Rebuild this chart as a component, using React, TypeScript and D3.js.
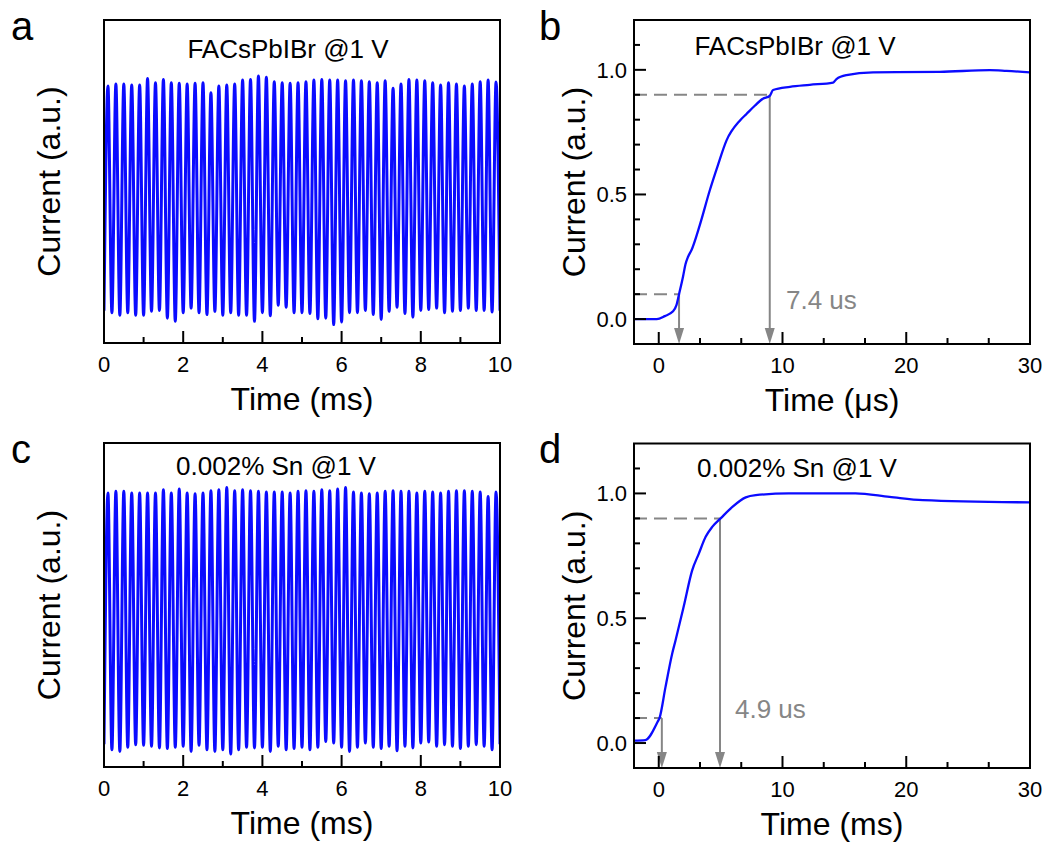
import React from 'react';
import * as d3 from 'd3';

const FONT = '"Liberation Sans", Arial, Helvetica, sans-serif';
const BLUE = '#0b0bff';
const GRAY = '#868686';

// ---------- Panels a / c : periodic photocurrent (peak and valley values, a.u.) ----------
const PERIOD_MS = 0.2;
const A_PEAKS = [0.796, 0.802, 0.802, 0.799, 0.799, 0.819, 0.806, 0.816, 0.806, 0.804, 0.802, 0.804, 0.806, 0.775, 0.796, 0.799, 0.802, 0.814, 0.816, 0.827, 0.823, 0.809, 0.806, 0.804, 0.806, 0.809, 0.814, 0.816, 0.814, 0.814, 0.812, 0.814, 0.812, 0.809, 0.806, 0.812, 0.789, 0.802, 0.816, 0.814, 0.812, 0.806, 0.799, 0.806, 0.802, 0.796, 0.802, 0.809, 0.814, 0.808];
const A_TROUGHS = [0.094, 0.086, 0.094, 0.086, 0.086, 0.098, 0.101, 0.077, 0.067, 0.094, 0.108, 0.094, 0.088, 0.098, 0.086, 0.094, 0.086, 0.086, 0.067, 0.094, 0.084, 0.117, 0.111, 0.094, 0.094, 0.091, 0.075, 0.077, 0.057, 0.065, 0.094, 0.094, 0.101, 0.088, 0.073, 0.098, 0.111, 0.091, 0.080, 0.101, 0.104, 0.108, 0.094, 0.098, 0.101, 0.108, 0.101, 0.101, 0.096];
const A_EDGES = [0.1, 0.1];

const C_PEAKS = [0.846, 0.851, 0.851, 0.846, 0.846, 0.846, 0.846, 0.856, 0.846, 0.858, 0.846, 0.843, 0.846, 0.853, 0.856, 0.863, 0.853, 0.856, 0.853, 0.851, 0.849, 0.849, 0.849, 0.846, 0.851, 0.853, 0.851, 0.856, 0.853, 0.858, 0.863, 0.849, 0.846, 0.843, 0.846, 0.851, 0.853, 0.851, 0.851, 0.846, 0.851, 0.849, 0.846, 0.851, 0.853, 0.853, 0.851, 0.849, 0.835, 0.849];
const C_TROUGHS = [0.053, 0.048, 0.061, 0.069, 0.067, 0.064, 0.059, 0.057, 0.061, 0.064, 0.048, 0.067, 0.053, 0.048, 0.053, 0.040, 0.053, 0.061, 0.059, 0.061, 0.048, 0.064, 0.053, 0.057, 0.061, 0.053, 0.061, 0.079, 0.074, 0.061, 0.048, 0.061, 0.074, 0.061, 0.057, 0.064, 0.050, 0.064, 0.059, 0.074, 0.077, 0.064, 0.069, 0.064, 0.057, 0.064, 0.069, 0.064, 0.053];
const C_EDGES = [0.07, 0.07];

const OSC_X_MAJOR = [0, 2, 4, 6, 8, 10];
const OSC_X_MINOR = [1, 3, 5, 7, 9];

// ---------- Panels b / d : rise curves ----------
const B_TIME = [-2.0, -0.16, 0.49, 1.13, 1.43, 1.64, 1.96, 2.16, 2.37, 2.64, 3.31, 4.12, 4.77, 5.47, 6.55, 7.09, 7.76, 8.41, 8.97, 9.24, 10.6, 12.2, 14.09, 14.36, 15.17, 17.32, 22.7, 26.76, 28.1, 30.0];
const B_CURRENT = [0.0, 0.0, 0.012, 0.03, 0.056, 0.1, 0.17, 0.22, 0.25, 0.276, 0.376, 0.516, 0.616, 0.716, 0.796, 0.823, 0.856, 0.884, 0.896, 0.919, 0.932, 0.94, 0.949, 0.963, 0.979, 0.99, 0.992, 0.999, 0.996, 0.99];
const B_T10 = 1.64;
const B_T90 = 8.97;

const D_TIME = [-2.0, -1.08, -0.08, 0.06, 0.54, 1.08, 1.35, 2.03, 2.7, 3.24, 3.79, 4.32, 5.0, 5.95, 7.03, 7.84, 10.5, 15.9, 18.65, 21.35, 30.0];
const D_CURRENT = [0.01, 0.012, 0.086, 0.1, 0.223, 0.357, 0.41, 0.55, 0.692, 0.759, 0.826, 0.866, 0.9, 0.946, 0.984, 0.993, 1.0, 1.0, 0.986, 0.973, 0.964];
const D_T10 = 0.25;
const D_T90 = 4.95;

const RISE_X_MAJOR = [0, 10, 20, 30];
const RISE_X_MINOR = [10 / 3, 20 / 3, 40 / 3, 50 / 3, 70 / 3, 80 / 3];
const RISE_Y_MAJOR = [0, 0.5, 1.0];
const RISE_Y_MINOR = [0.1, 0.2, 0.3, 0.4, 0.6, 0.7, 0.8, 0.9, 1.1];
const LEVEL_10 = 0.1;
const LEVEL_90 = 0.9;

type Box = { x0: number; x1: number; y0: number; y1: number };

function buildOsc(peaks: number[], troughs: number[], edges: number[]): [number, number][] {
  const pts: [number, number][] = [[0, edges[0]]];
  peaks.forEach((p, k) => {
    pts.push([PERIOD_MS * (k + 0.5), p]);
    if (k < troughs.length) pts.push([PERIOD_MS * (k + 1), troughs[k]]);
  });
  pts.push([10, edges[1]]);
  return pts;
}

function PanelLetter({ x, y, t }: { x: number; y: number; t: string }) {
  return (
    <text x={x} y={y} fontSize={40} fontFamily={FONT} fill="#000">
      {t}
    </text>
  );
}

function OscPanel({ box, peaks, troughs, edges, title, titleX, titleY, yLabelX }: any) {
  const b: Box = box;
  const x = d3.scaleLinear().domain([0, 10]).range([b.x0, b.x1]);
  const y = d3.scaleLinear().domain([0, 1]).range([b.y1, b.y0]);
  const data = buildOsc(peaks, troughs, edges);
  const line = d3
    .line<[number, number]>()
    .x((d) => x(d[0]))
    .y((d) => y(d[1]))
    .curve(d3.curveMonotoneX);
  const clipId = `clip-${b.x0}-${b.y0}`;
  return (
    <g>
      <defs>
        <clipPath id={clipId}>
          <rect x={b.x0} y={b.y0} width={b.x1 - b.x0} height={b.y1 - b.y0} />
        </clipPath>
      </defs>
      <path d={line(data) || ''} fill="none" stroke={BLUE} strokeWidth={3} clipPath={`url(#${clipId})`} />
      <rect x={b.x0} y={b.y0} width={b.x1 - b.x0} height={b.y1 - b.y0} fill="none" stroke="#000" strokeWidth={2} />
      {OSC_X_MAJOR.map((v) => (
        <g key={'M' + v}>
          <line x1={x(v)} x2={x(v)} y1={b.y1} y2={b.y1 - 12} stroke="#000" strokeWidth={2} />
          <text x={x(v)} y={b.y1 + 29} fontSize={22} fontFamily={FONT} textAnchor="middle">
            {v}
          </text>
        </g>
      ))}
      {OSC_X_MINOR.map((v) => (
        <line key={'m' + v} x1={x(v)} x2={x(v)} y1={b.y1} y2={b.y1 - 6} stroke="#000" strokeWidth={2} />
      ))}
      <text x={(b.x0 + b.x1) / 2} y={b.y1 + 67} fontSize={32} fontFamily={FONT} textAnchor="middle">
        Time (ms)
      </text>
      <text
        transform={`translate(${yLabelX},${(b.y0 + b.y1) / 2}) rotate(-90)`}
        fontSize={32}
        fontFamily={FONT}
        textAnchor="middle"
      >
        Current (a.u.)
      </text>
      <text x={titleX} y={titleY} fontSize={26} fontFamily={FONT} textAnchor="middle">
        {title}
      </text>
    </g>
  );
}

function RisePanel({ box, times, values, t10, t90, title, titleX, titleY, xLabel, note, noteX, noteY }: any) {
  const b: Box = box;
  const x = d3.scaleLinear().domain([-2, 30]).range([b.x0, b.x1]);
  const y = d3.scaleLinear().domain([-0.1, 1.2]).range([b.y1, b.y0]);
  const data: [number, number][] = times.map((t: number, i: number) => [t, values[i]]);
  const line = d3
    .line<[number, number]>()
    .x((d) => x(d[0]))
    .y((d) => y(d[1]))
    .curve(d3.curveMonotoneX);
  const arrow = (xv: number, fromLevel: number) => {
    const ax = x(xv);
    const tip = b.y1;
    return (
      <g>
        <line x1={ax} x2={ax} y1={y(fromLevel)} y2={tip - 12} stroke={GRAY} strokeWidth={2} />
        <path d={`M${ax},${tip} L${ax - 5},${tip - 16} L${ax + 5},${tip - 16} Z`} fill={GRAY} />
      </g>
    );
  };
  return (
    <g>
      <line x1={b.x0} x2={x(t90)} y1={y(LEVEL_90)} y2={y(LEVEL_90)} stroke={GRAY} strokeWidth={2} strokeDasharray="13,7" />
      <line x1={b.x0} x2={x(t10)} y1={y(LEVEL_10)} y2={y(LEVEL_10)} stroke={GRAY} strokeWidth={2} strokeDasharray="13,7" />
      {arrow(t90, LEVEL_90)}
      {arrow(t10, LEVEL_10)}
      <path d={line(data) || ''} fill="none" stroke={BLUE} strokeWidth={2.3} />
      <rect x={b.x0} y={b.y0} width={b.x1 - b.x0} height={b.y1 - b.y0} fill="none" stroke="#000" strokeWidth={2} />
      {RISE_X_MAJOR.map((v) => (
        <g key={'M' + v}>
          <line x1={x(v)} x2={x(v)} y1={b.y1} y2={b.y1 - 12} stroke="#000" strokeWidth={2} />
          <text x={x(v)} y={b.y1 + 29} fontSize={22} fontFamily={FONT} textAnchor="middle">
            {v}
          </text>
        </g>
      ))}
      {RISE_X_MINOR.map((v, i) => (
        <line key={'m' + i} x1={x(v)} x2={x(v)} y1={b.y1} y2={b.y1 - 6} stroke="#000" strokeWidth={2} />
      ))}
      {RISE_Y_MAJOR.map((v) => (
        <g key={'YM' + v}>
          <line x1={b.x0} x2={b.x0 + 12} y1={y(v)} y2={y(v)} stroke="#000" strokeWidth={2} />
          <text x={b.x0 - 7} y={y(v) + 8} fontSize={22} fontFamily={FONT} textAnchor="end">
            {d3.format('.1f')(v)}
          </text>
        </g>
      ))}
      {RISE_Y_MINOR.map((v, i) => (
        <line key={'ym' + i} x1={b.x0} x2={b.x0 + 6} y1={y(v)} y2={y(v)} stroke="#000" strokeWidth={2} />
      ))}
      <text x={(b.x0 + b.x1) / 2} y={b.y1 + 67} fontSize={32} fontFamily={FONT} textAnchor="middle">
        {xLabel}
      </text>
      <text
        transform={`translate(${b.x0 - 49},${(b.y0 + b.y1) / 2}) rotate(-90)`}
        fontSize={32}
        fontFamily={FONT}
        textAnchor="middle"
      >
        Current (a.u.)
      </text>
      <text x={titleX} y={titleY} fontSize={26} fontFamily={FONT} textAnchor="middle">
        {title}
      </text>
      <text x={noteX} y={noteY} fontSize={26} fontFamily={FONT} fill={GRAY}>
        {note}
      </text>
    </g>
  );
}

export default function App() {
  return (
    <div style={{ position: 'absolute', left: 0, top: 0 }}>
      <svg width={1049} height={845} style={{ display: 'block', background: '#fff' }}>
        <PanelLetter x={11} y={40} t="a" />
        <PanelLetter x={539} y={40} t="b" />
        <PanelLetter x={11} y={463} t="c" />
        <PanelLetter x={539} y={463} t="d" />
        <OscPanel
          box={{ x0: 104, x1: 500, y0: 20, y1: 343 }}
          peaks={A_PEAKS}
          troughs={A_TROUGHS}
          edges={A_EDGES}
          title="FACsPbIBr @1 V"
          titleX={288}
          titleY={58}
          yLabelX={60}
        />
        <RisePanel
          box={{ x0: 634, x1: 1030, y0: 20, y1: 344 }}
          times={B_TIME}
          values={B_CURRENT}
          t10={B_T10}
          t90={B_T90}
          title="FACsPbIBr @1 V"
          titleX={795}
          titleY={55}
          xLabel="Time (μs)"
          note="7.4 us"
          noteX={786}
          noteY={309}
        />
        <OscPanel
          box={{ x0: 104, x1: 500, y0: 443, y1: 767 }}
          peaks={C_PEAKS}
          troughs={C_TROUGHS}
          edges={C_EDGES}
          title="0.002% Sn @1 V"
          titleX={276}
          titleY={475}
          yLabelX={60}
        />
        <RisePanel
          box={{ x0: 634, x1: 1030, y0: 443.5, y1: 768 }}
          times={D_TIME}
          values={D_CURRENT}
          t10={D_T10}
          t90={D_T90}
          title="0.002% Sn @1 V"
          titleX={797}
          titleY={477}
          xLabel="Time (ms)"
          note="4.9 us"
          noteX={735}
          noteY={718}
        />
      </svg>
    </div>
  );
}
